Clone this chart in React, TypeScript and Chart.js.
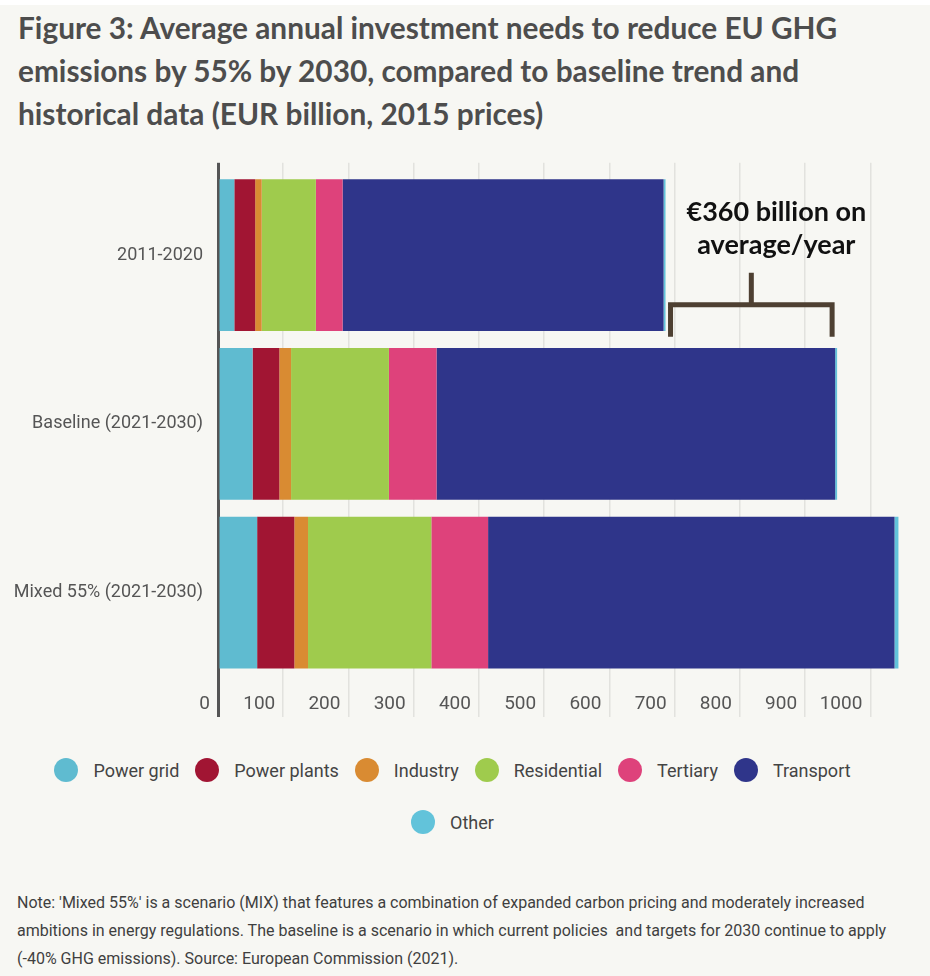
import React, { useEffect, useRef } from "react";
import { Chart, registerables } from "chart.js";
Chart.register(...registerables);

const categories = ["2011-2020", "Baseline (2021-2030)", "Mixed 55% (2021-2030)"];
const seriesNames = ["Power grid", "Power plants", "Industry", "Residential", "Tertiary", "Transport", "Other"];
const seriesColors = ["#5fbbd0", "#a11533", "#d98b32", "#9fcb4d", "#de427b", "#2f358a", "#62c3da"];
const powerGrid = [25, 53, 60];
const powerPlants = [32, 41, 57];
const industry = [10, 18, 21];
const residential = [83, 150, 189];
const tertiary = [41, 73, 87];
const transport = [492, 611, 623];
const other = [3, 3, 6];
const xMax = 1050;
const xStep = 100;
const annotationLines = ["€360 billion on", "average/year"];
const titleLines = [
  "Figure 3: Average annual investment needs to reduce EU GHG",
  "emissions by 55% by 2030, compared to baseline trend and",
  "historical data (EUR billion, 2015 prices)",
];
const noteLines = [
  "Note: 'Mixed 55%' is a scenario (MIX) that features a combination of expanded carbon pricing and moderately increased",
  "ambitions in energy regulations. The baseline is a scenario in which current policies  and targets for 2030 continue to apply",
  "(-40% GHG emissions). Source: European Commission (2021).",
];

export default function App() {
  const ref = useRef<HTMLCanvasElement>(null);

  useEffect(() => {
    if (!ref.current) return;
    const seriesData = [powerGrid, powerPlants, industry, residential, tertiary, transport, other];
    const totals = categories.map((_, i) => seriesData.reduce((s, d) => s + d[i], 0));
    const gridColor = (c: any) => (c.tick && c.tick.value === 0 ? "#555555" : "#e2e2de");
    const gridWidth = (c: any) => (c.tick && c.tick.value === 0 ? 3 : 1.5);

    const bracket = {
      id: "bracket",
      afterDatasetsDraw(chart: any) {
        const { ctx, chartArea, scales } = chart;
        const xs = scales.x;
        const x1 = xs.getPixelForValue(totals[0]) + 5;
        const x2 = xs.getPixelForValue(totals[1]) - 5;
        const top = chartArea.top;
        const yBar = top + 134;
        const yLeg = top + 166;
        const yStem = top + 102;
        const mid = (x1 + x2) / 2;
        ctx.save();
        ctx.strokeStyle = "#4e4032";
        ctx.lineWidth = 5;
        ctx.lineJoin = "miter";
        ctx.beginPath();
        ctx.moveTo(x1, yLeg);
        ctx.lineTo(x1, yBar);
        ctx.lineTo(x2, yBar);
        ctx.lineTo(x2, yLeg);
        ctx.moveTo(mid, yBar);
        ctx.lineTo(mid, yStem);
        ctx.stroke();
        ctx.fillStyle = "#111111";
        ctx.font = "bold 27px Lato";
        ctx.textAlign = "center";
        ctx.textBaseline = "middle";
        ctx.fillText(annotationLines[0], mid + 25, top + 41);
        ctx.fillText(annotationLines[1], mid + 25, top + 74);
        ctx.restore();
      },
    };

    const chart = new Chart(ref.current, {
      type: "bar",
      data: {
        labels: categories,
        datasets: seriesNames.map((n, i) => ({
          label: n,
          data: seriesData[i],
          backgroundColor: seriesColors[i],
          borderWidth: 0,
          barPercentage: 0.9,
          categoryPercentage: 1,
        })),
      },
      options: {
        indexAxis: "y",
        responsive: false,
        animation: false,
        layout: { padding: { left: 0, right: 27, top: 0, bottom: 0 } },
        plugins: { legend: { display: false }, tooltip: { enabled: false } },
        scales: {
          x: {
            type: "linear",
            position: "bottom",
            stacked: true,
            min: 0,
            max: xMax,
            border: { display: false },
            grid: { color: gridColor, lineWidth: gridWidth, tickLength: 40, drawTicks: true },
            ticks: {
              stepSize: xStep,
              includeBounds: false,
              align: "end",
              labelOffset: -8,
              padding: -24,
              color: "#555555",
              font: { family: "Roboto", size: 19 },
              callback: (v: any) => String(v),
            },
            afterFit: (s: any) => {
              s.height = 63;
            },
          },
          x2: {
            type: "linear",
            position: "top",
            min: 0,
            max: xMax,
            border: { display: false },
            grid: { color: gridColor, lineWidth: gridWidth, tickLength: 8, drawOnChartArea: false },
            ticks: { stepSize: xStep, includeBounds: false, display: false },
            afterFit: (s: any) => {
              s.height = 8;
            },
          },
          y: {
            type: "category",
            stacked: true,
            z: 1,
            border: { display: true, color: "#555555", width: 3 },
            grid: { display: false, drawTicks: false },
            ticks: { padding: 15, color: "#555555", font: { family: "Roboto", size: 18 } },
            afterFit: (s: any) => {
              s.width = 218;
            },
          },
        },
      } as any,
      plugins: [bracket],
    });
    return () => chart.destroy();
  }, []);

  const legendItem = (i: number) => (
    <div key={i} style={{ display: "flex", alignItems: "center", marginRight: i === 5 || i === 6 ? 0 : 16 }}>
      <span
        style={{
          width: 24,
          height: 24,
          borderRadius: "50%",
          background: seriesColors[i],
          display: "inline-block",
          marginRight: 15,
        }}
      />
      <span style={{ fontFamily: "Roboto", fontSize: 18, color: "#444444", whiteSpace: "nowrap" }}>
        {seriesNames[i]}
      </span>
    </div>
  );

  return (
    <div style={{ position: "absolute", left: 0, top: 0, width: 930, height: 976, background: "#ffffff", overflow: "hidden" }}>
      <div style={{ position: "absolute", left: 0, top: 5, width: 930, height: 971, background: "#f7f7f3" }} />
      <div
        style={{
          position: "absolute",
          left: 18,
          top: 6,
          fontFamily: "Lato",
          fontWeight: 700,
          fontSize: 29.8,
          lineHeight: "43px",
          color: "#4d4d4d",
          whiteSpace: "nowrap",
        }}
      >
        {titleLines.map((l, i) => (
          <div key={i}>{l}</div>
        ))}
      </div>
      <canvas
        ref={ref}
        width={930}
        height={595}
        style={{ position: "absolute", left: 0, top: 145, width: 930, height: 595 }}
      />
      <div style={{ position: "absolute", left: 0, top: 758, width: 905, height: 24, display: "flex", justifyContent: "center" }}>
        {[0, 1, 2, 3, 4, 5].map(legendItem)}
      </div>
      <div style={{ position: "absolute", left: 0, top: 810, width: 905, height: 24, display: "flex", justifyContent: "center" }}>
        {[6].map(legendItem)}
      </div>
      <div
        style={{
          position: "absolute",
          left: 17,
          top: 889,
          fontFamily: "Roboto",
          fontSize: 16,
          lineHeight: "28px",
          color: "#3f3f3f",
          whiteSpace: "pre",
        }}
      >
        {noteLines.map((l, i) => (
          <div key={i}>{l}</div>
        ))}
      </div>
    </div>
  );
}
